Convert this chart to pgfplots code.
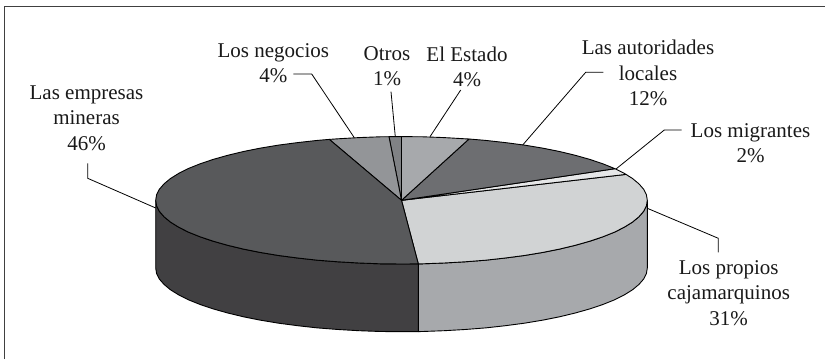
\documentclass[border=0pt]{standalone}
\usepackage{pgfplots}
\pgfplotsset{compat=1.18}
\usepackage{fontspec}
\setmainfont{Liberation Serif}
\definecolor{cEmp}{HTML}{58595B}
\definecolor{cEmpS}{HTML}{414042}
\definecolor{cNeg}{HTML}{939598}
\definecolor{cOtr}{HTML}{808285}
\definecolor{cEst}{HTML}{A7A9AC}
\definecolor{cAut}{HTML}{6D6E71}
\definecolor{cMig}{HTML}{E6E7E8}
\definecolor{cPro}{HTML}{D1D3D4}
\definecolor{cProS}{HTML}{A7A9AC}
\definecolor{cFrame}{HTML}{404040}
\tikzset{lab/.style={font=\fontsize{21}{25.3}\selectfont,align=center,text=black!90,inner sep=0pt,anchor=center}}
\begin{document}
\begin{tikzpicture}
\begin{axis}[
  width=825pt,height=359pt,scale only axis,
  xmin=-401.5,xmax=423.5,ymin=-158.7,ymax=200.3,
  hide axis,clip=true,
  every axis plot/.append style={line width=0.9pt,line join=round,mark=none},
]
% full picture extent
\addplot[draw=none] coordinates {(-401.5,-158.7)(423.5,200.3)};
% frame
\addplot[draw=cFrame,line width=1.1pt] coordinates {(-397,-158.7)(-397,193.8)(423.5,193.8)};
% side: Los propios
\addplot[fill=cProS,draw=black] coordinates {(245.8,0)(244.9,-5.6)(242.1,-11.1)(237.4,-16.5)(231.0,-21.8)(222.8,-26.9)(212.9,-31.9)(201.4,-36.5)(188.3,-40.9)(173.8,-45.0)(158.0,-48.8)(141.0,-52.2)(122.9,-55.2)(103.9,-57.7)(84.1,-59.9)(63.6,-61.5)(42.7,-62.7)(21.4,-63.5)(16.8,-63.6)
(16.8,-131.3)(21.4,-131.2)(42.7,-130.4)(63.6,-129.2)(84.1,-127.6)(103.9,-125.4)(122.9,-122.9)(141.0,-119.9)(158.0,-116.5)(173.8,-112.7)(188.3,-108.6)(201.4,-104.2)(212.9,-99.6)(222.8,-94.6)(231.0,-89.5)(237.4,-84.2)(242.1,-78.8)(244.9,-73.3)(245.8,-67.7)} --cycle;
% side: Las empresas
\addplot[fill=cEmpS,draw=black] coordinates {(16.8,-63.6)(0,-63.7)(-21.4,-63.5)(-42.7,-62.7)(-63.6,-61.5)(-84.1,-59.9)(-103.9,-57.7)(-122.9,-55.2)(-141.0,-52.2)(-158.0,-48.8)(-173.8,-45.0)(-188.3,-40.9)(-201.4,-36.5)(-212.9,-31.9)(-222.8,-26.9)(-231.0,-21.8)(-237.4,-16.5)(-242.1,-11.1)(-244.9,-5.6)(-245.8,0)
(-245.8,-67.7)(-244.9,-73.3)(-242.1,-78.8)(-237.4,-84.2)(-231.0,-89.5)(-222.8,-94.6)(-212.9,-99.6)(-201.4,-104.2)(-188.3,-108.6)(-173.8,-112.7)(-158.0,-116.5)(-141.0,-119.9)(-122.9,-122.9)(-103.9,-125.4)(-84.1,-127.6)(-63.6,-129.2)(-42.7,-130.4)(-21.4,-131.2)(0,-131.4)(16.8,-131.3)} --cycle;
% top: Los propios 31
\addplot[fill=cPro,draw=black] coordinates {(0,0)(224.5,25.9)(231.0,21.8)(237.4,16.5)(242.1,11.1)(244.9,5.6)(245.8,0)(244.9,-5.6)(242.1,-11.1)(237.4,-16.5)(231.0,-21.8)(222.8,-26.9)(212.9,-31.9)(201.4,-36.5)(188.3,-40.9)(173.8,-45.0)(158.0,-48.8)(141.0,-52.2)(122.9,-55.2)(103.9,-57.7)(84.1,-59.9)(63.6,-61.5)(42.7,-62.7)(21.4,-63.5)(16.8,-63.6)} --cycle;
% top: Los migrantes 2
\addplot[fill=cMig,draw=black] coordinates {(0,0)(213.5,31.6)(222.8,26.9)(224.5,25.9)} --cycle;
% top: Las autoridades locales 12
\addplot[fill=cAut,draw=black] coordinates {(0,0)(67.5,61.3)(84.1,59.9)(103.9,57.7)(122.9,55.2)(141.0,52.2)(158.0,48.8)(173.8,45.0)(188.3,40.9)(201.4,36.5)(213.5,31.6)} --cycle;
% top: El Estado 4
\addplot[fill=cEst,draw=black] coordinates {(0,0)(0,63.7)(21.4,63.5)(42.7,62.7)(63.6,61.5)(67.5,61.3)} --cycle;
% top: Otros 1
\addplot[fill=cOtr,draw=black] coordinates {(0,0)(-12.5,63.6)(0,63.7)} --cycle;
% top: Los negocios 4
\addplot[fill=cNeg,draw=black] coordinates {(0,0)(-72.2,60.9)(-63.6,61.5)(-42.7,62.7)(-21.4,63.5)(-12.5,63.6)} --cycle;
% top: Las empresas 46
\addplot[fill=cEmp,draw=black] coordinates {(0,0)(16.8,-63.6)(0,-63.7)(-21.4,-63.5)(-42.7,-62.7)(-63.6,-61.5)(-84.1,-59.9)(-103.9,-57.7)(-122.9,-55.2)(-141.0,-52.2)(-158.0,-48.8)(-173.8,-45.0)(-188.3,-40.9)(-201.4,-36.5)(-212.9,-31.9)(-222.8,-26.9)(-231.0,-21.8)(-237.4,-16.5)(-242.1,-11.1)(-244.9,-5.6)(-245.8,0)(-244.9,5.6)(-242.1,11.1)(-237.4,16.5)(-231.0,21.8)(-222.8,26.9)(-212.9,31.9)(-201.4,36.5)(-188.3,40.9)(-173.8,45.0)(-158.0,48.8)(-141.0,52.2)(-122.9,55.2)(-103.9,57.7)(-84.1,59.9)(-72.2,60.9)} --cycle;
% leaders
\addplot[draw=black,line width=0.8pt] coordinates {(-313.8,37)(-313.8,22)(-245.8,-7.7)};
\addplot[draw=black,line width=0.8pt] coordinates {(-108.2,126.3)(-89.8,126.3)(-47.2,62.6)};
\addplot[draw=black,line width=0.8pt] coordinates {(-10.5,108.6)(-6.2,63.6)};
\addplot[draw=black,line width=0.8pt] coordinates {(59.2,110.3)(28.5,63.6)};
\addplot[draw=black,line width=0.8pt] coordinates {(201.8,128)(184.2,128)(121.2,55.3)};
\addplot[draw=black,line width=0.8pt] coordinates {(280.2,70.3)(262.8,70.3)(214.5,31.3)};
\addplot[draw=black,line width=0.8pt] coordinates {(245.8,-8)(316.8,-38)(316.8,-52)};
% labels
\node[lab] at (axis cs:-315,82.3) {Las empresas\\mineras\\46\%};
\node[lab] at (axis cs:-128.2,137.3) {Los negocios\\4\%};
\node[lab] at (axis cs:-14.5,134.3) {Otros\\1\%};
\node[lab] at (axis cs:65.5,133.3) {El Estado\\4\%};
\node[lab] at (axis cs:246.5,127.3) {Las autoridades\\locales\\12\%};
\node[lab] at (axis cs:349,57.3) {Los migrantes\\2\%};
\node[lab] at (axis cs:327.2,-92.7) {Los propios\\cajamarquinos\\31\%};
\end{axis}
\end{tikzpicture}
\end{document}
